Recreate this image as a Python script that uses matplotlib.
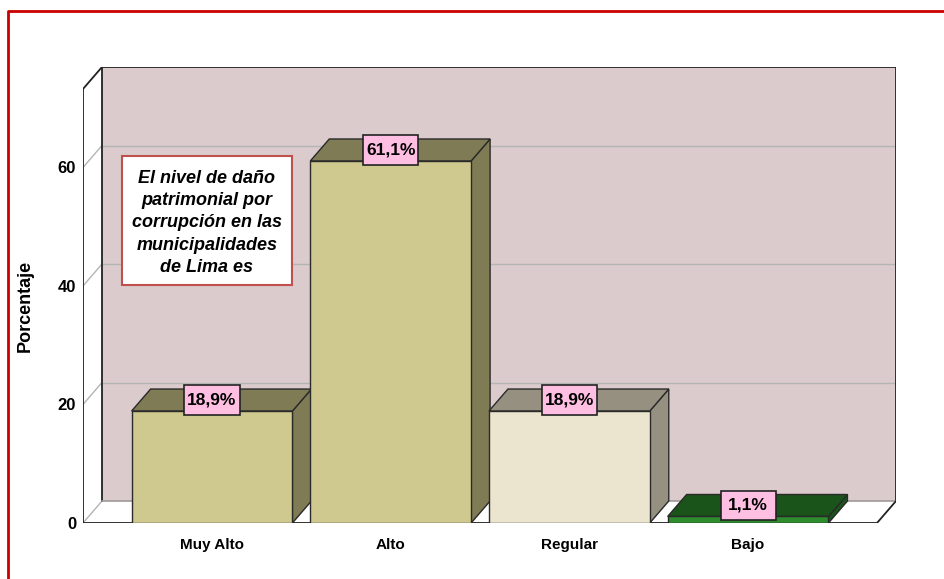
import matplotlib.pyplot as plt
from matplotlib.patches import Polygon, Rectangle
from matplotlib.lines import Line2D

plt.rcParams['font.family'] = ['Liberation Sans', 'DejaVu Sans']

categorias = ['Muy Alto', 'Alto', 'Regular', 'Bajo']
porcentajes = [18.9, 61.1, 18.9, 1.1]
etiquetas = ['18,9%', '61,1%', '18,9%', '1,1%']
yticks = [0, 20, 40, 60]

# colores: (frente, techo/lado)
colores = [('#cfc98f', '#7f7b55'),
           ('#cfc98f', '#7f7b55'),
           ('#ebe4cf', '#959080'),
           ('#2e8b2e', '#1b541b')]

titulo_caja = 'El nivel de daño\npatrimonial por\ncorrupción en las\nmunicipalidades\nde Lima es'

W, H = 945, 579
fig = plt.figure(figsize=(W / 100, H / 100), dpi=100)

# ejes en pixeles de la figura
x_izq, x_der, y_abajo, y_arriba = 83, 896, 523, 67
ax = fig.add_axes([x_izq / W, 1 - y_abajo / H, (x_der - x_izq) / W, (y_abajo - y_arriba) / H])
x0, x1 = -0.722, 3.828
ymax = 76.96
ax.set_xlim(x0, x1)
ax.set_ylim(0, ymax)

# profundidad 3D en unidades de datos
dx, dy = 0.1063, 3.71
ancho = 0.9
x1f = x1 - dx  # borde derecho del plano frontal
ytop = ymax - dy
# tamaño de las cajitas de porcentaje (55x30 px)
cw, ch = 0.308, 5.06

# pared del fondo
ax.add_patch(Rectangle((x0 + dx, dy), x1 - x0 - dx, ymax - dy, facecolor='#dbcbcc',
                       edgecolor='none', zorder=1))
ax.plot([x0 + dx, x1, x1], [ymax, ymax, dy], color='#222222', lw=1.3, zorder=2)
ax.plot([x0 + dx, x0 + dx], [dy, ymax], color='#222222', lw=1.3, zorder=2)
ax.plot([x0 + dx, x1], [dy, dy], color='#a09a9a', lw=1.2, zorder=2)

# piso
ax.add_patch(Polygon([(x0, 0), (x0 + dx, dy), (x1, dy), (x1f, 0)], closed=True,
                     facecolor='white', edgecolor='none', zorder=1))
ax.plot([x0, x1f, x1], [0, 0, dy], color='#222222', lw=1.3, zorder=2)
# pared izquierda
ax.add_patch(Polygon([(x0, 0), (x0 + dx, dy), (x0 + dx, ymax), (x0, ytop)], closed=True,
                     facecolor='white', edgecolor='none', zorder=1))
ax.plot([x0, x0, x0 + dx], [0, ytop, ymax], color='#222222', lw=1.3, zorder=2)

# lineas de cuadricula
for v in yticks:
    ax.plot([x0, x0 + dx], [v, v + dy], color='#b4b4b4', lw=1.0, zorder=1.5)
    if v > 0:
        ax.plot([x0 + dx, x1], [v + dy, v + dy], color='#b4b4b4', lw=1.0, zorder=1.5)

# barras 3D
for i, (v, (cf, cl)) in enumerate(zip(porcentajes, colores)):
    xa, xb = i - ancho / 2, i + ancho / 2
    ax.add_patch(Polygon([(xb, 0), (xb + dx, dy), (xb + dx, v + dy), (xb, v)], closed=True,
                         facecolor=cl, edgecolor='#2a2a2a', lw=1.0, zorder=3))
    ax.add_patch(Polygon([(xa, v), (xa + dx, v + dy), (xb + dx, v + dy), (xb, v)], closed=True,
                         facecolor=cl, edgecolor='#2a2a2a', lw=1.0, zorder=3))
    ax.add_patch(Rectangle((xa, 0), ancho, v, facecolor=cf, edgecolor='#2a2a2a', lw=1.0, zorder=3))
    yc = v + dy / 2
    ax.add_patch(Rectangle((i - cw / 2, yc - ch / 2), cw, ch, facecolor='#ffbfe3',
                           edgecolor='#222222', lw=1.2, zorder=5))
    ax.text(i, yc, etiquetas[i], ha='center', va='center', fontsize=12.5,
            fontweight='bold', zorder=6)

# ejes y etiquetas
for s in ax.spines.values():
    s.set_visible(False)
ax.set_yticks(yticks)
ax.set_yticklabels([str(t) for t in yticks], fontsize=12, fontweight='bold')
ax.set_xticks(range(len(categorias)))
ax.set_xticklabels(categorias, fontsize=11, fontweight='bold')
ax.tick_params(axis='y', length=0, pad=5)
ax.tick_params(axis='x', length=0, pad=11)
fig.text(25 / W, 1 - 306 / H, 'Porcentaje', rotation=90, ha='center', va='center',
         fontsize=13, fontweight='bold')

# caja de texto
ax.add_patch(Rectangle((0.048, 0.522), 0.209, 0.283, transform=ax.transAxes,
                       facecolor='white', edgecolor='#c0504d', lw=1.5, zorder=6))
ax.text(0.1525, 0.658, titulo_caja, transform=ax.transAxes, ha='center', va='center',
        fontsize=13, fontweight='bold', fontstyle='italic', linespacing=1.4, zorder=7)

# marco rojo
fig.add_artist(Line2D([8 / W, 8 / W, 1], [0, 1 - 11 / H, 1 - 11 / H],
                      transform=fig.transFigure, color='#cc0000', lw=2))

fig.savefig('out.png', dpi=100)
